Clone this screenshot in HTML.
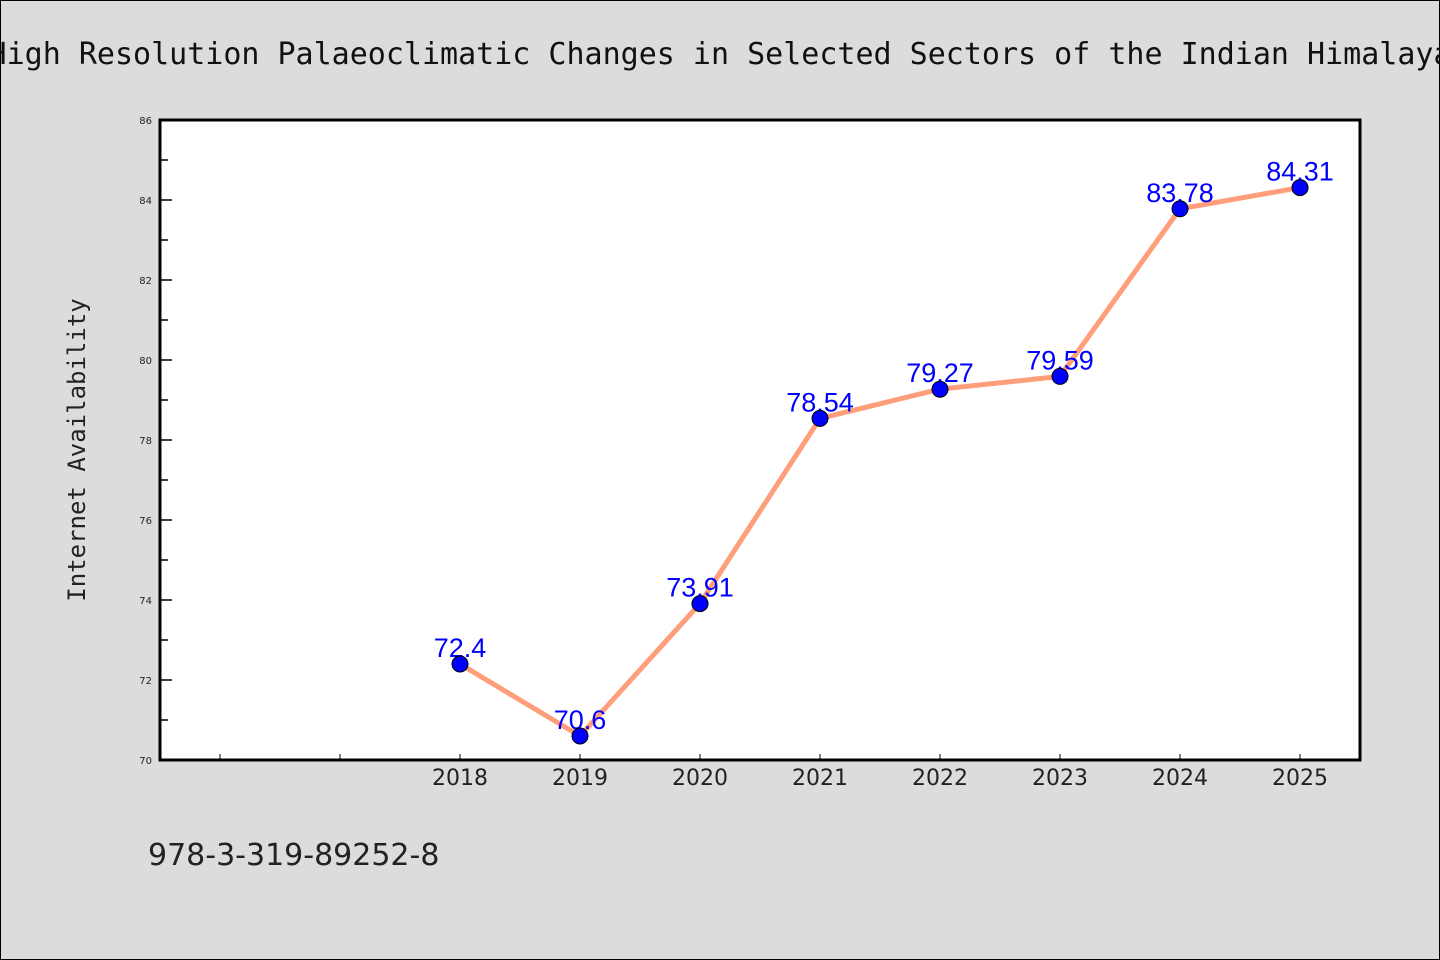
<!DOCTYPE html>
<html><head><meta charset="utf-8"><style>
body{margin:0;background:#dcdcdc;}
svg{display:block;}
</style></head><body>
<svg width="1440" height="960" xmlns="http://www.w3.org/2000/svg">
<rect x="0.5" y="0.5" width="1439" height="959" fill="#dcdcdc" stroke="#000"/>
<text x="720" y="64" text-anchor="middle" font-family="'DejaVu Sans Mono','Liberation Mono',monospace" font-size="30" fill="#111">High Resolution Palaeoclimatic Changes in Selected Sectors of the Indian Himalaya</text>
<rect x="160" y="120" width="1200" height="640" fill="#fff"/>
<g id="ticks"></g>
<g id="series"></g>
<rect x="160" y="120" width="1200" height="640" fill="none" stroke="#000" stroke-width="3"/>
<text transform="translate(85,450) rotate(-90)" text-anchor="middle" font-family="'DejaVu Sans Mono','Liberation Mono',monospace" font-size="24" fill="#222">Internet Availability</text>
<text x="148" y="865" font-family="'DejaVu Sans','Liberation Sans',sans-serif" font-size="30" fill="#222">978-3-319-89252-8</text>
</svg>
<script>
const categories = ["", "", "2018", "2019", "2020", "2021", "2022", "2023", "2024", "2025"];
const values = [null, null, 72.4, 70.6, 73.91, 78.54, 79.27, 79.59, 83.78, 84.31];
const yTicks = [70, 72, 74, 76, 78, 80, 82, 84, 86];
const NS = "http://www.w3.org/2000/svg";
const L = 160, R = 1360, T = 120, B = 760, yMin = 70, yMax = 86;
const xs = i => L + (R - L) / categories.length * (i + 0.5);
const ys = v => B - (v - yMin) / (yMax - yMin) * (B - T);
function mk(tag, attrs, parent) { const e = document.createElementNS(NS, tag); for (const k in attrs) e.setAttribute(k, attrs[k]); parent.appendChild(e); return e; }
const tg = document.getElementById("ticks");
yTicks.forEach((t, i) => {
  const y = ys(t);
  const ln = mk("line", {x1: L, x2: L + 12, y1: y, y2: y, stroke: "#000", "stroke-width": 1.5}, tg);
  
  
  const tx = mk("text", {x: L - 8, y: y + 4, "text-anchor": "end", "font-family": "'DejaVu Sans',sans-serif", "font-size": 10, fill: "#222"}, tg);
  tx.textContent = t;
  
  
  if (i < yTicks.length - 1) {
    const ym = ys(t + 1);
    const mn = mk("line", {x1: L, x2: L + 8, y1: ym, y2: ym, stroke: "#000", "stroke-width": 1.5}, tg);
    
    
  }
});
categories.forEach((c, i) => {
  const x = xs(i);
  const ln = mk("line", {x1: x, x2: x, y1: B, y2: B - 6, stroke: "#000", "stroke-width": 1}, tg);
  
  
  if (c) {
    const tx = mk("text", {x: x, y: B + 25, "text-anchor": "middle", "font-family": "'DejaVu Sans',sans-serif", "font-size": 22, fill: "#222"}, tg);
    tx.textContent = c;
    
    
  }
});
const sg = document.getElementById("series");
const pts = [];
values.forEach((v, i) => { if (v !== null) pts.push([xs(i), ys(v)]); });
const pl = mk("polyline", {points: pts.map(p => p.join(",")).join(" "), fill: "none", stroke: "#ff9e7a", "stroke-width": 5, "stroke-linejoin": "round"}, sg);


values.forEach((v, i) => {
  if (v === null) return;
  const x = xs(i), y = ys(v);
  const tx = mk("text", {x: x, y: y - 7, "text-anchor": "middle", "font-family": "'Liberation Sans',sans-serif", "font-size": 27, fill: "#0000ff"}, sg);
  tx.textContent = String(v);
  
  
});
values.forEach((v, i) => {
  if (v === null) return;
  const c = mk("circle", {cx: xs(i), cy: ys(v), r: 8, fill: "#0000ff", stroke: "#000", "stroke-width": 1}, sg);
  
  
});
</script>
</body></html>
